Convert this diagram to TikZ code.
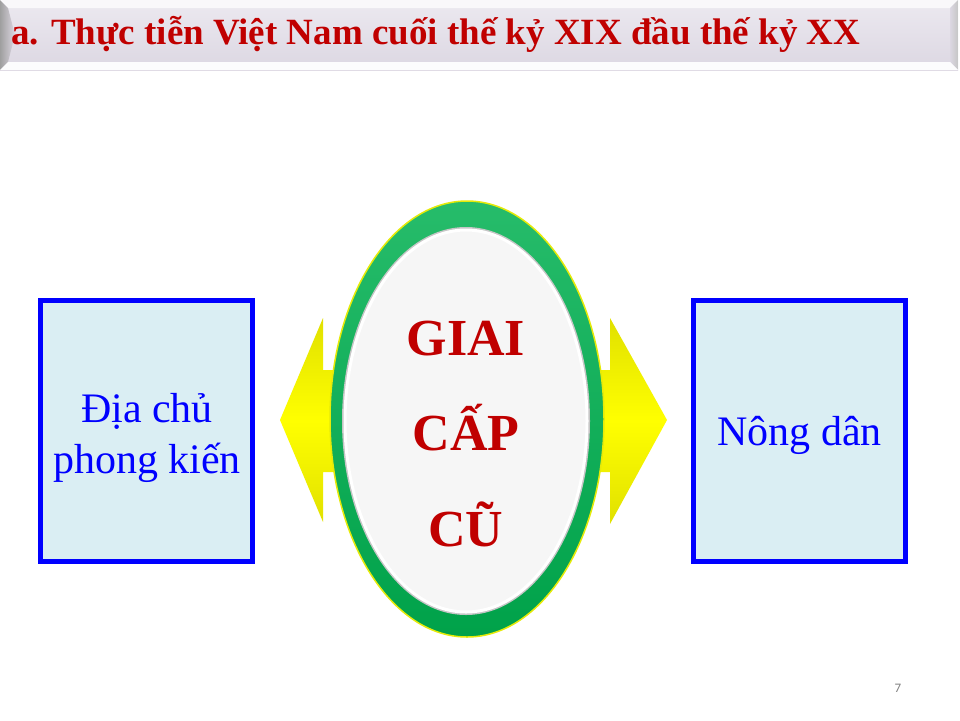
\documentclass[tikz,border=0pt]{standalone}
\usepackage{fontspec}
\setmainfont{Liberation Serif}
\newfontfamily\numfont{Carlito}
\usepackage{tikz}
\usetikzlibrary{shapes.geometric}

\definecolor{titlered}{HTML}{C00000}
\definecolor{ringgreen}{HTML}{00B050}
\definecolor{boxblue}{HTML}{0000FF}
\definecolor{boxfill}{HTML}{DAEEF3}
\definecolor{bandtop}{HTML}{ECE9F0}
\definecolor{bandbot}{HTML}{DCD7E2}

\begin{document}
\begin{tikzpicture} [
    x=1pt, y=-1pt,
    classbox/.style = {rectangle, draw=boxblue, line width=5pt, fill=boxfill,
        minimum width=212pt, minimum height=261pt},
    classname/.style = {text=boxblue, align=center, font=\fontsize{42}{51}\selectfont},
    bigword/.style = {anchor=base, text=titlered, font=\fontsize{52}{60}\selectfont\bfseries},
]
    \useasboundingbox (0,0) rectangle (960,720);
    \fill[white] (0,0) rectangle (960,720);

    % title band
    \shade[top color=bandtop, bottom color=bandbot] (0,0) rectangle (958,70);
    \fill[white!70!bandtop] (0,0) -- (958,0) -- (950,8) -- (8,8) -- cycle;
    \shade[left color=gray!75, right color=bandbot] (0,0) -- (8,8) -- (15,35) -- (8,62) -- (0,70) -- cycle;
    \shade[left color=bandbot, right color=gray!45] (950,8) -- (958,0) -- (958,70) -- (950,62) -- cycle;
    \fill[white!92!bandbot] (0,70) -- (8,62) -- (950,62) -- (958,70) -- cycle;
    \node[anchor=base west, text=titlered, inner sep=0pt,
        font=\fontsize{37}{44}\selectfont\bfseries] (title) at (11,44)
        {a. Thực tiễn Việt Nam cuối thế kỷ XIX đầu thế kỷ XX};

    % double arrow behind the ellipse
    \shade[top color=yellow!88!black, bottom color=yellow!88!black, middle color=yellow]
        (280,420) -- (323,318) -- (323,370) -- (610,370) -- (610,318) -- (667,420)
        -- (610,524) -- (610,472) -- (323,472) -- (323,522) -- cycle;

    % ellipse
    \node[ellipse, minimum width=274pt, minimum height=436pt, draw=yellow!90!green,
        line width=1.5pt, top color=ringgreen!85!white, bottom color=ringgreen!92!black]
        (ring) at (467,419) {};
    \node[ellipse, minimum width=246pt, minimum height=386pt, draw=gray!45,
        line width=2pt] (glow) at (466,421) {};
    \node[ellipse, minimum width=242pt, minimum height=382pt, draw=white,
        line width=3pt, fill=gray!7] (core) at (466,421) {};
    \node[bigword] (giai) at (466,355) {GIAI};
    \node[bigword] (cap) at (466,450) {CẤP};
    \node[bigword] (cu) at (466,546) {CŨ};

    % the two classes
    \node[classbox] (landlord) at (146.5,431) {};
    \node[classbox] (farmer) at (799.5,431) {};
    \node[classname] (landlordname) at (147,438) {Địa chủ\\phong kiến};
    \node[classname] (farmername) at (799.5,435) {Nông dân};

    \node[text=gray, font=\numfont\fontsize{13}{15}\selectfont] (page) at (898,688) {7};
\end{tikzpicture}
\end{document}
